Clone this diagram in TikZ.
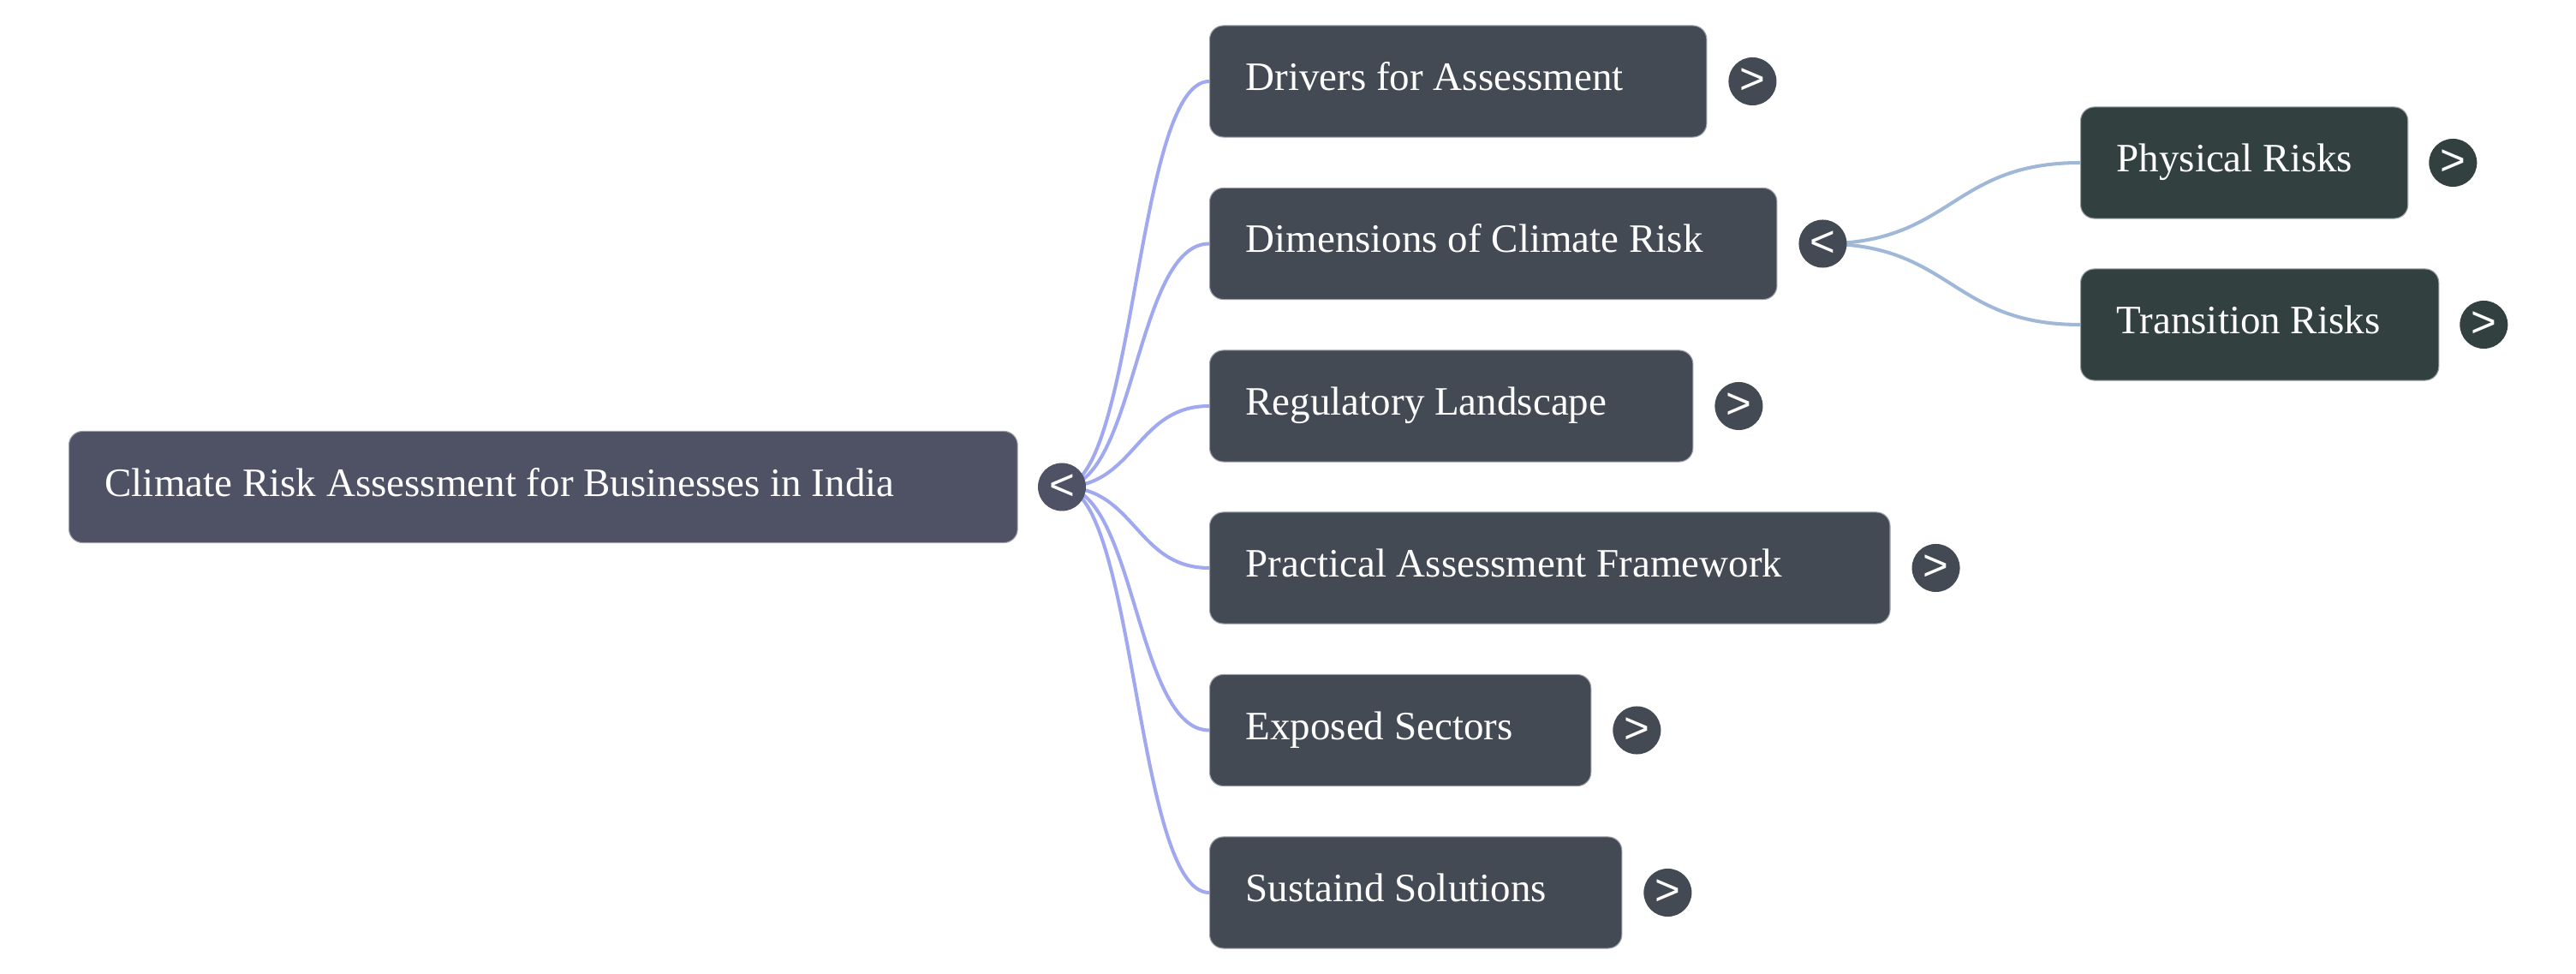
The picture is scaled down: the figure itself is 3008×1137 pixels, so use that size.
\documentclass[tikz,border=0pt]{standalone}
\usepackage{fontspec}
\setmainfont{Liberation Serif}
\newfontfamily\chevfont{Liberation Sans}
\definecolor{rootc}{HTML}{4F5165}
\definecolor{childc}{HTML}{434A54}
\definecolor{grandc}{HTML}{32413F}
\definecolor{edgeA}{HTML}{A0A8F0}
\definecolor{edgeB}{HTML}{A0B8D8}
\definecolor{rimc}{HTML}{9A9EA8}
\pgfdeclarelayer{bgfill}
\pgfdeclarelayer{edges}
\pgfsetlayers{bgfill,edges,main}
\tikzset{
  box/.style={rectangle, rounded corners=0.16cm, draw=rimc, line width=0.3pt,
    minimum height=1.30cm, inner xsep=0.42cm, inner ysep=0pt,
    text height=0.31cm, text depth=0.10cm, text=white, anchor=west,
    font=\fontsize{13.37pt}{16pt}\selectfont},
  rootbox/.style={box, fill=rootc},
  childbox/.style={box, fill=childc},
  grandbox/.style={box, fill=grandc},
  tog/.style={circle, minimum size=0.56cm, inner sep=0pt, text=white,
    font=\chevfont\fontsize{14.5pt}{14.5pt}\selectfont},
  edgeroot/.style={draw=edgeA, line width=1.15pt},
  edgedim/.style={draw=edgeB, line width=1.15pt}
}
\begin{document}
\begin{tikzpicture}[x=0.01cm, y=-0.01cm]
\useasboundingbox (0,0) rectangle (3008,1137);
\begin{pgfonlayer}{bgfill}
\fill[white] (0,0) rectangle (3008,1137);
\end{pgfonlayer}

% root
\node[rootbox] (root) at (80,568.5) {\makebox[10.23cm][l]{Climate Risk Assessment for Businesses in India}};
\node[tog, fill=rootc] (t0) at (1240,568.5) {<};

% children
\node[childbox] (c1) at (1412,95) {\makebox[4.96cm][l]{Drivers for Assessment}};
\node[childbox] (c2) at (1412,284.5) {\makebox[5.78cm][l]{Dimensions of Climate Risk}};
\node[childbox] (c3) at (1412,474) {\makebox[4.80cm][l]{Regulatory Landscape}};
\node[childbox] (c4) at (1412,663) {\makebox[7.10cm][l]{Practical Assessment Framework}};
\node[childbox] (c5) at (1412,852.5) {\makebox[3.61cm][l]{Exposed Sectors}};
\node[childbox] (c6) at (1412,1042) {\makebox[3.97cm][l]{Sustaind Solutions}};

\node[tog, fill=childc] (t1) at ([xshift=0.53cm]c1.east) {>};
\node[tog, fill=childc] (t2) at ([xshift=0.53cm]c2.east) {<};
\node[tog, fill=childc] (t3) at ([xshift=0.53cm]c3.east) {>};
\node[tog, fill=childc] (t4) at ([xshift=0.53cm]c4.east) {>};
\node[tog, fill=childc] (t5) at ([xshift=0.53cm]c5.east) {>};
\node[tog, fill=childc] (t6) at ([xshift=0.53cm]c6.east) {>};

% grandchildren
\node[grandbox] (g1) at (2429,190) {\makebox[2.98cm][l]{Physical Risks}};
\node[grandbox] (g2) at (2429,379) {\makebox[3.34cm][l]{Transition Risks}};
\node[tog, fill=grandc] (u1) at ([xshift=0.52cm]g1.east) {>};
\node[tog, fill=grandc] (u2) at ([xshift=0.52cm]g2.east) {>};

% connectors (behind the toggles)
\begin{pgfonlayer}{edges}
\foreach \c in {c1,c2,c3,c4,c5,c6}{
  \draw[edgeroot] (t0.center) .. controls +(0.86cm,0) and +(-0.86cm,0) .. (\c.west);
}
\foreach \g in {g1,g2}{
  \draw[edgedim] (t2.center) .. controls +(1.51cm,0) and +(-1.51cm,0) .. (\g.west);
}
\end{pgfonlayer}
\end{tikzpicture}
\end{document}
